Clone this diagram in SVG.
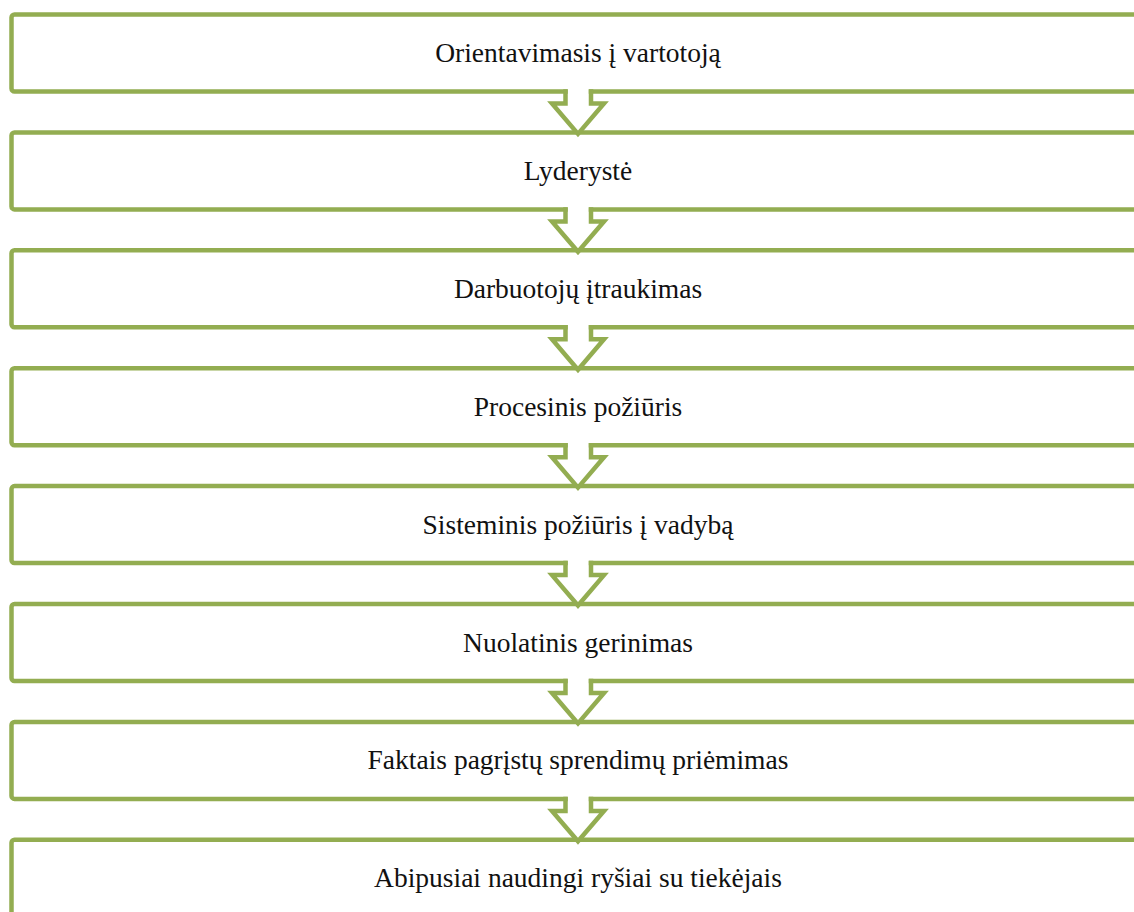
<svg xmlns="http://www.w3.org/2000/svg" width="1134" height="912" viewBox="0 0 1134 912">
<style>
.box{fill:#ffffff;stroke:#93AD51;stroke-width:4.5}
.lbl{font-family:"Liberation Serif","Times New Roman",serif;font-size:27.5px;fill:#111111;text-anchor:middle}
.af{fill:#ffffff;stroke:none}
.as{fill:none;stroke:#93AD51;stroke-width:4.5;stroke-linejoin:miter;stroke-linecap:butt}
</style>
<rect width="1134" height="912" fill="#ffffff"/>
<g id="n1"><rect class="box" x="11.5" y="14.5" width="1140" height="77" rx="3"/><text class="lbl" x="578" y="62">Orientavimasis į vartotoją</text></g>
<g id="n2"><rect class="box" x="11.5" y="132.4" width="1140" height="77" rx="3"/><text class="lbl" x="578" y="179.9">Lyderystė</text></g>
<g id="n3"><rect class="box" x="11.5" y="250.3" width="1140" height="77" rx="3"/><text class="lbl" x="578" y="297.8">Darbuotojų įtraukimas</text></g>
<g id="n4"><rect class="box" x="11.5" y="368.2" width="1140" height="77" rx="3"/><text class="lbl" x="578" y="415.7">Procesinis požiūris</text></g>
<g id="n5"><rect class="box" x="11.5" y="486.1" width="1140" height="77" rx="3"/><text class="lbl" x="578" y="533.6">Sisteminis požiūris į vadybą</text></g>
<g id="n6"><rect class="box" x="11.5" y="604" width="1140" height="77" rx="3"/><text class="lbl" x="578" y="651.5">Nuolatinis gerinimas</text></g>
<g id="n7"><rect class="box" x="11.5" y="721.9" width="1140" height="77" rx="3"/><text class="lbl" x="578" y="769.4">Faktais pagrįstų sprendimų priėmimas</text></g>
<g id="n8"><rect class="box" x="11.5" y="839.8" width="1140" height="77" rx="3"/><text class="lbl" x="578" y="887.3">Abipusiai naudingi ryšiai su tiekėjais</text></g>
<g id="connectors">
<g transform="translate(0,91.5)"><polygon class="af" points="567.75,-3 567.75,12 552,12 578,42.4 604,12 588.75,12 588.75,-3"/><path class="as" d="M565.5,-2.25 V12 H552 L578,42.4 L604,12 H591 V-2.25"/></g>
<g transform="translate(0,209.4)"><polygon class="af" points="567.75,-3 567.75,12 552,12 578,42.4 604,12 588.75,12 588.75,-3"/><path class="as" d="M565.5,-2.25 V12 H552 L578,42.4 L604,12 H591 V-2.25"/></g>
<g transform="translate(0,327.3)"><polygon class="af" points="567.75,-3 567.75,12 552,12 578,42.4 604,12 588.75,12 588.75,-3"/><path class="as" d="M565.5,-2.25 V12 H552 L578,42.4 L604,12 H591 V-2.25"/></g>
<g transform="translate(0,445.2)"><polygon class="af" points="567.75,-3 567.75,12 552,12 578,42.4 604,12 588.75,12 588.75,-3"/><path class="as" d="M565.5,-2.25 V12 H552 L578,42.4 L604,12 H591 V-2.25"/></g>
<g transform="translate(0,563.1)"><polygon class="af" points="567.75,-3 567.75,12 552,12 578,42.4 604,12 588.75,12 588.75,-3"/><path class="as" d="M565.5,-2.25 V12 H552 L578,42.4 L604,12 H591 V-2.25"/></g>
<g transform="translate(0,681)"><polygon class="af" points="567.75,-3 567.75,12 552,12 578,42.4 604,12 588.75,12 588.75,-3"/><path class="as" d="M565.5,-2.25 V12 H552 L578,42.4 L604,12 H591 V-2.25"/></g>
<g transform="translate(0,798.9)"><polygon class="af" points="567.75,-3 567.75,12 552,12 578,42.4 604,12 588.75,12 588.75,-3"/><path class="as" d="M565.5,-2.25 V12 H552 L578,42.4 L604,12 H591 V-2.25"/></g>
</g>
</svg>
